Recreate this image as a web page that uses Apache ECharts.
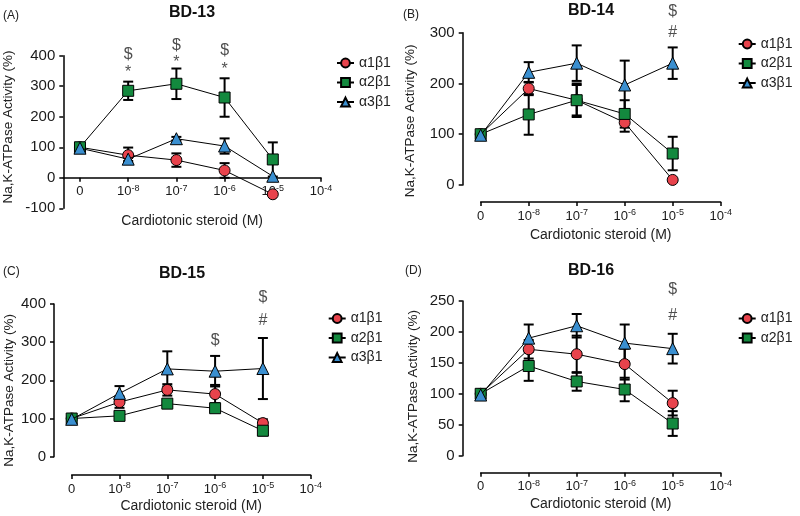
<!DOCTYPE html>
<html><head><meta charset="utf-8">
<script src="https://cdn.jsdelivr.net/npm/echarts@6/dist/echarts.min.js"></script>
<style>html,body{margin:0;padding:0;background:#fff}#c{width:800px;height:516px}</style>
</head><body><div id="c"></div>
<script>
// ---------- data ----------
const seriesNames = ['α1β1', 'α2β1', 'α3β1'];
const xIndex = [0, 1, 2, 3, 4];               // 0, 1e-8, 1e-7, 1e-6, 1e-5
const xTickBase = ['0', '10', '10', '10', '10', '10'];
const xTickExp = ['', '-8', '-7', '-6', '-5', '-4'];
const panelTitles = ['BD-13', 'BD-14', 'BD-15', 'BD-16'];
const panelLetters = ['(A)', '(B)', '(C)', '(D)'];

// Panel A (BD-13)
const A_a1 = [100, 74, 58, 24, -54];   const A_a1_err = [0, 25, 22, 24, 0];
const A_a2 = [100, 285, 308, 263, 60]; const A_a2_err = [0, 30, 50, 63, 56];
const A_a3 = [97, 61, 128, 104, 5];    const A_a3_err = [0, 6, 6, 25, 0];
const A_ann = [[1, 402, '$'], [1, 345, '*'], [2, 432, '$'], [2, 378, '*'], [3, 416, '$'], [3, 354, '*']];

// Panel B (BD-14)
const B_a1 = [100, 190, 167, 123, 10];  const B_a1_err = [0, 13, 30, 18, 0];
const B_a2 = [100, 139, 167, 140, 62];  const B_a2_err = [0, 40, 33, 27, 33];
const B_a3 = [98, 222, 240, 197, 240];  const B_a3_err = [0, 20, 35, 48, 31];
const B_ann = [[4, 342, '$'], [4, 301, '#']];

// Panel C (BD-15)
const C_a1 = [100, 143, 175, 164, 88];  const C_a1_err = [0, 15, 15, 24, 10];
const C_a2 = [100, 107, 139, 127, 68];  const C_a2_err = [0, 8, 8, 8, 12];
const C_a3 = [98, 166, 230, 224, 231];  const C_a3_err = [0, 19, 46, 40, 80];
const C_ann = [[3, 305, '$'], [4, 418, '$'], [4, 356, '#']];

// Panel D (BD-16)
const D_a1 = [100, 172, 164, 148, 85];  const D_a1_err = [0, 15, 30, 25, 20];
const D_a2 = [100, 145, 120, 107, 52];  const D_a2_err = [0, 24, 15, 19, 20];
const D_a3 = [98, 190, 210, 182, 173];  const D_a3_err = [0, 22, 19, 30, 24];
const D_ann = [[4, 268, '$'], [4, 227, '#']];

const yRanges = [[-100, 400, 100], [0, 300, 100], [0, 400, 100], [0, 250, 50]];

// ---------- layout / style ----------
const FONT = '"Liberation Sans", Arial, Helvetica, sans-serif';
const colors = ['#e8434c', '#13893e', '#3a8fd0'];
const symbols = ['circle', 'rect', 'triangle'];
const symbolSizes = [11, 11, 12];

const panels = [
  { grid: {left: 63.3, top: 55.7, width: 257.7, height: 152.6}, xMin: -0.346, xAtZero: true, yOffset: 0,
    xNameGap: 36, yNameGap: 48, yNamePad: [0, 0, 0, 10],
    title: [192, 13], letter: [3, 16], legend: [336, 56], legendNames: seriesNames,
    data: [[A_a1, A_a1_err], [A_a2, A_a2_err], [A_a3, A_a3_err]], ann: A_ann },
  { grid: {left: 480.7, top: 32.7, width: 240, height: 152.3}, xMin: 0, xOffset: 17, yOffset: 18,
    xNameGap: 26, yNameGap: 45, yNamePad: [0, 24, 0, 0],
    title: [591, 11], letter: [403, 15], legend: [737.7, 37], legendNames: seriesNames,
    data: [[B_a1, B_a1_err], [B_a2, B_a2_err], [B_a3, B_a3_err]], ann: B_ann },
  { grid: {left: 71.7, top: 304, width: 239, height: 152.7}, xMin: 0, xOffset: 18.3, yOffset: 17.7,
    xNameGap: 24, yNameGap: 38, yNamePad: [0, 20, 0, 0],
    title: [182, 274], letter: [3, 272], legend: [327.7, 311.5], legendNames: seriesNames,
    data: [[C_a1, C_a1_err], [C_a2, C_a2_err], [C_a3, C_a3_err]], ann: C_ann },
  { grid: {left: 480.7, top: 301, width: 240, height: 154.7}, xMin: 0, xOffset: 17, yOffset: 18,
    xNameGap: 24, yNameGap: 42, yNamePad: [0, 16, 0, 0],
    title: [591, 271], letter: [405, 271], legend: [737.7, 311.5], legendNames: seriesNames.slice(0, 2),
    data: [[D_a1, D_a1_err], [D_a2, D_a2_err], [D_a3, D_a3_err]], ann: D_ann },
];

const axisLineStyle = {color: '#000', width: 1.5};

const grids = [], xAxes = [], yAxes = [], series = [], legends = [], graphics = [];

panels.forEach((p, gi) => {
  const yr = yRanges[gi];
  // in panel A the x axis sits on y = 0: shift it up from the grid bottom by the scale position of 0
  const xOffset = p.xAtZero ? -((0 - yr[0]) / (yr[1] - yr[0])) * p.grid.height : p.xOffset;
  grids.push(Object.assign({outerBoundsMode: 'none', containLabel: false}, p.grid));
  xAxes.push({
    type: 'value', gridIndex: gi, min: p.xMin, max: 5, interval: 1,
    offset: xOffset,
    axisLine: {show: true, onZero: false, lineStyle: axisLineStyle},
    axisTick: {show: true, length: 4, lineStyle: axisLineStyle, customValues: [0, 1, 2, 3, 4, 5]},
    splitLine: {show: false},
    axisLabel: {
      customValues: [0, 1, 2, 3, 4, 5], margin: 6, color: '#1a1a1a', fontFamily: FONT,
      formatter: v => { const i = Math.round(v); return xTickExp[i] ? `{b|${xTickBase[i]}}{e|${xTickExp[i]}}` : `{b|${xTickBase[i]}}`; },
      rich: {
        b: {fontSize: 13, lineHeight: 16, fontFamily: FONT, color: '#1a1a1a'},
        e: {fontSize: 9, lineHeight: 6, verticalAlign: 'top', fontFamily: FONT, color: '#1a1a1a'}
      }
    },
    name: 'Cardiotonic steroid (M)', nameLocation: 'middle', nameGap: p.xNameGap,
    nameTextStyle: {fontSize: 14, color: '#222', fontFamily: FONT}
  });
  yAxes.push({
    type: 'value', gridIndex: gi, min: yr[0], max: yr[1], interval: yr[2],
    offset: p.yOffset,
    axisLine: {show: true, onZero: false, lineStyle: axisLineStyle},
    axisTick: {show: true, length: 4, lineStyle: axisLineStyle},
    splitLine: {show: false},
    axisLabel: {fontSize: 15, color: '#1a1a1a', margin: 8, fontFamily: FONT},
    name: 'Na,K-ATPase Activity (%)', nameLocation: 'middle', nameGap: p.yNameGap,
    nameTextStyle: {fontSize: 13.5, color: '#222', fontFamily: FONT, padding: p.yNamePad}
  });

  // error bars (behind markers)
  p.data.forEach((d, si) => {
    series.push({
      type: 'custom', xAxisIndex: gi, yAxisIndex: gi, z: 1, silent: true, clip: false,
      data: d[0].map((v, i) => [xIndex[i], v, d[1][i]]),
      encode: {x: 0, y: 1},
      renderItem: (params, api) => {
        const x = api.value(0), y = api.value(1), e = api.value(2);
        if (!e) return null;
        const top = api.coord([x, y + e]), bot = api.coord([x, y - e]);
        const w = 5, style = {stroke: '#000', lineWidth: 2};
        return {type: 'group', children: [
          {type: 'line', shape: {x1: top[0], y1: top[1], x2: bot[0], y2: bot[1]}, style},
          {type: 'line', shape: {x1: top[0] - w, y1: top[1], x2: top[0] + w, y2: top[1]}, style},
          {type: 'line', shape: {x1: bot[0] - w, y1: bot[1], x2: bot[0] + w, y2: bot[1]}, style}
        ]};
      }
    });
  });
  // lines with markers
  p.data.forEach((d, si) => {
    series.push({
      type: 'line', name: seriesNames[si], xAxisIndex: gi, yAxisIndex: gi, z: 3 + si, clip: false,
      data: d[0].map((v, i) => [xIndex[i], v]),
      symbol: symbols[si], symbolSize: symbolSizes[si], showAllSymbol: true,
      itemStyle: {color: colors[si], borderColor: '#000', borderWidth: 1},
      lineStyle: {color: '#000', width: 1}
    });
  });
  // significance annotations
  series.push({
    type: 'scatter', xAxisIndex: gi, yAxisIndex: gi, z: 10, silent: true, clip: false,
    symbolSize: 1, itemStyle: {color: 'rgba(0,0,0,0)'},
    data: p.ann.map(a => [a[0], a[1], a[2]]),
    label: {show: true, position: 'inside', formatter: q => q.value[2], fontSize: 16, color: '#222', fontFamily: FONT}
  });

  legends.push({
    orient: 'vertical', left: p.legend[0], top: p.legend[1], data: p.legendNames, padding: 0,
    itemWidth: 17, itemHeight: 11, itemGap: 5.5, selectedMode: false,
    textStyle: {fontSize: 14, color: '#222', fontFamily: FONT}
  });

  graphics.push({type: 'text', x: p.title[0], y: p.title[1],
    style: {text: panelTitles[gi], align: 'center', verticalAlign: 'middle', font: 'bold 16px ' + FONT, fill: '#111'}});
  graphics.push({type: 'text', x: p.letter[0], y: p.letter[1],
    style: {text: panelLetters[gi], align: 'left', verticalAlign: 'middle', font: '12px ' + FONT, fill: '#222'}});
});

const chart = echarts.init(document.getElementById('c'), null, {renderer: 'canvas'});
chart.setOption({
  animation: false,
  backgroundColor: '#fff',
  grid: grids, xAxis: xAxes, yAxis: yAxes, series, legend: legends, graphic: graphics
});
</script></body></html>
